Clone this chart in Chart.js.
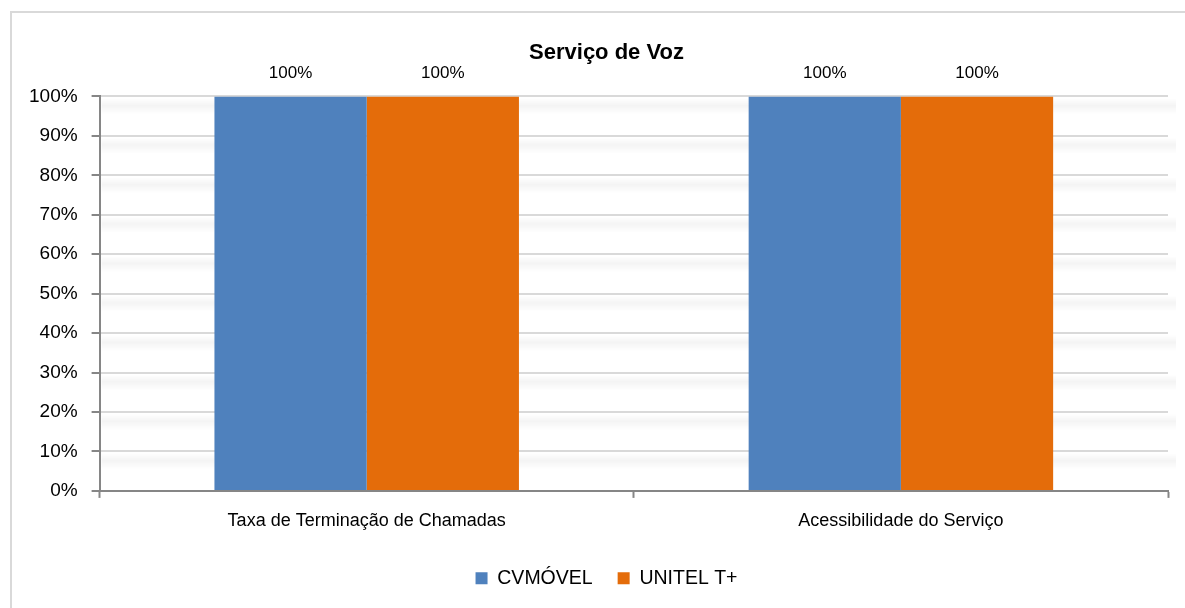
<!DOCTYPE html>
<html>
<head>
<meta charset="utf-8">
<script src="https://cdn.jsdelivr.net/npm/chart.js@4.4.0/dist/chart.umd.min.js"></script>
<style>
  html, body { margin: 0; padding: 0; background: #fff; }
  #frame { position: absolute; left: 10px; top: 11px; width: 1300px; height: 700px;
           border-left: 2px solid #d9d9d9; border-top: 2px solid #d9d9d9; }
  #wrap { position: absolute; left: 0; top: 0; width: 1185px; height: 608px; }
</style>
</head>
<body>
<div id="frame"></div>
<div id="wrap"><canvas id="myChart" width="1185" height="608"></canvas></div>
<script>
// data
const categories = ['Taxa de Terminação de Chamadas', 'Acessibilidade do Serviço'];
const cvmovel = [100, 100];
const unitel = [100, 100];
const seriesNames = ['CVMÓVEL', 'UNITEL T+'];
const yTicks = [0, 10, 20, 30, 40, 50, 60, 70, 80, 90, 100];

const FONT = '"Liberation Sans", Arial, sans-serif';
Chart.defaults.font.family = FONT;
Chart.defaults.color = '#000';

// soft shadow under every gridline, like the office chart
const gridShadow = {
  id: 'gridShadow',
  beforeDatasetsDraw(chart) {
    const ctx = chart.ctx, y = chart.scales.y, area = chart.chartArea;
    ctx.save();
    yTicks.forEach(function (v) {
      if (v === 0) return;
      const py = y.getPixelForValue(v);
      const g = ctx.createLinearGradient(0, py + 2, 0, py + 18);
      g.addColorStop(0, 'rgba(0,0,0,0)');
      g.addColorStop(0.45, 'rgba(0,0,0,0.045)');
      g.addColorStop(1, 'rgba(0,0,0,0)');
      ctx.fillStyle = g;
      ctx.fillRect(area.left + 2, py + 2, area.right - area.left + 6, 16);
    });
    ctx.restore();
  }
};

const barLabels = {
  id: 'barLabels',
  afterDatasetsDraw(chart) {
    const ctx = chart.ctx;
    ctx.save();
    ctx.font = '17px ' + FONT;
    ctx.fillStyle = '#000';
    ctx.textAlign = 'center';
    ctx.textBaseline = 'middle';
    chart.data.datasets.forEach(function (ds, i) {
      chart.getDatasetMeta(i).data.forEach(function (bar, j) {
        ctx.fillText(ds.data[j] + '%', bar.x, bar.y - 23);
      });
    });
    ctx.restore();
  }
};

// the office chart centres title and legend on the whole frame, a bit right of the canvas centre
const shiftBoxes = {
  id: 'shiftBoxes',
  afterLayout(chart) {
    [chart.titleBlock, chart.legend].forEach(function (b) {
      if (!b) return;
      b.left += 15;
      b.right += 15;
    });
  }
};

var ctx = document.getElementById('myChart').getContext('2d');
var myChart = new Chart(ctx, {
  type: 'bar',
  data: {
    labels: categories,
    datasets: [
      { label: seriesNames[0], data: cvmovel, backgroundColor: '#4f81bd' },
      { label: seriesNames[1], data: unitel, backgroundColor: '#e46c0a' }
    ]
  },
  options: {
    responsive: false,
    animation: false,
    datasets: { bar: { categoryPercentage: 0.57, barPercentage: 1.0 } },
    layout: { padding: { left: 15, right: 17, top: 40, bottom: 10 } },
    plugins: {
      title: {
        display: true,
        text: 'Serviço de Voz',
        font: { size: 22, weight: 'bold' },
        color: '#000',
        padding: { top: 0, bottom: 30 }
      },
      legend: {
        position: 'bottom',
        labels: { boxWidth: 12, boxHeight: 12, padding: 25, font: { size: 19.5 }, color: '#000' }
      },
      tooltip: { enabled: false }
    },
    scales: {
      x: {
        grid: { offset: true, drawOnChartArea: false, drawTicks: true, tickLength: 7, tickColor: '#868686', tickWidth: 2 },
        border: { color: '#868686', width: 2 },
        ticks: { font: { size: 18 }, color: '#000', padding: 12 }
      },
      y: {
        min: 0, max: 100,
        afterBuildTicks: function (axis) { axis.ticks = yTicks.map(function (v) { return { value: v }; }); },
        grid: { color: '#d9d9d9', lineWidth: 2, tickLength: 8, tickColor: '#868686', tickWidth: 2 },
        border: { color: '#868686', width: 2 },
        ticks: { font: { size: 19 }, color: '#000', padding: 14, callback: function (v) { return v + '%'; } }
      }
    }
  },
  plugins: [gridShadow, barLabels, shiftBoxes]
});
</script>
</body>
</html>
